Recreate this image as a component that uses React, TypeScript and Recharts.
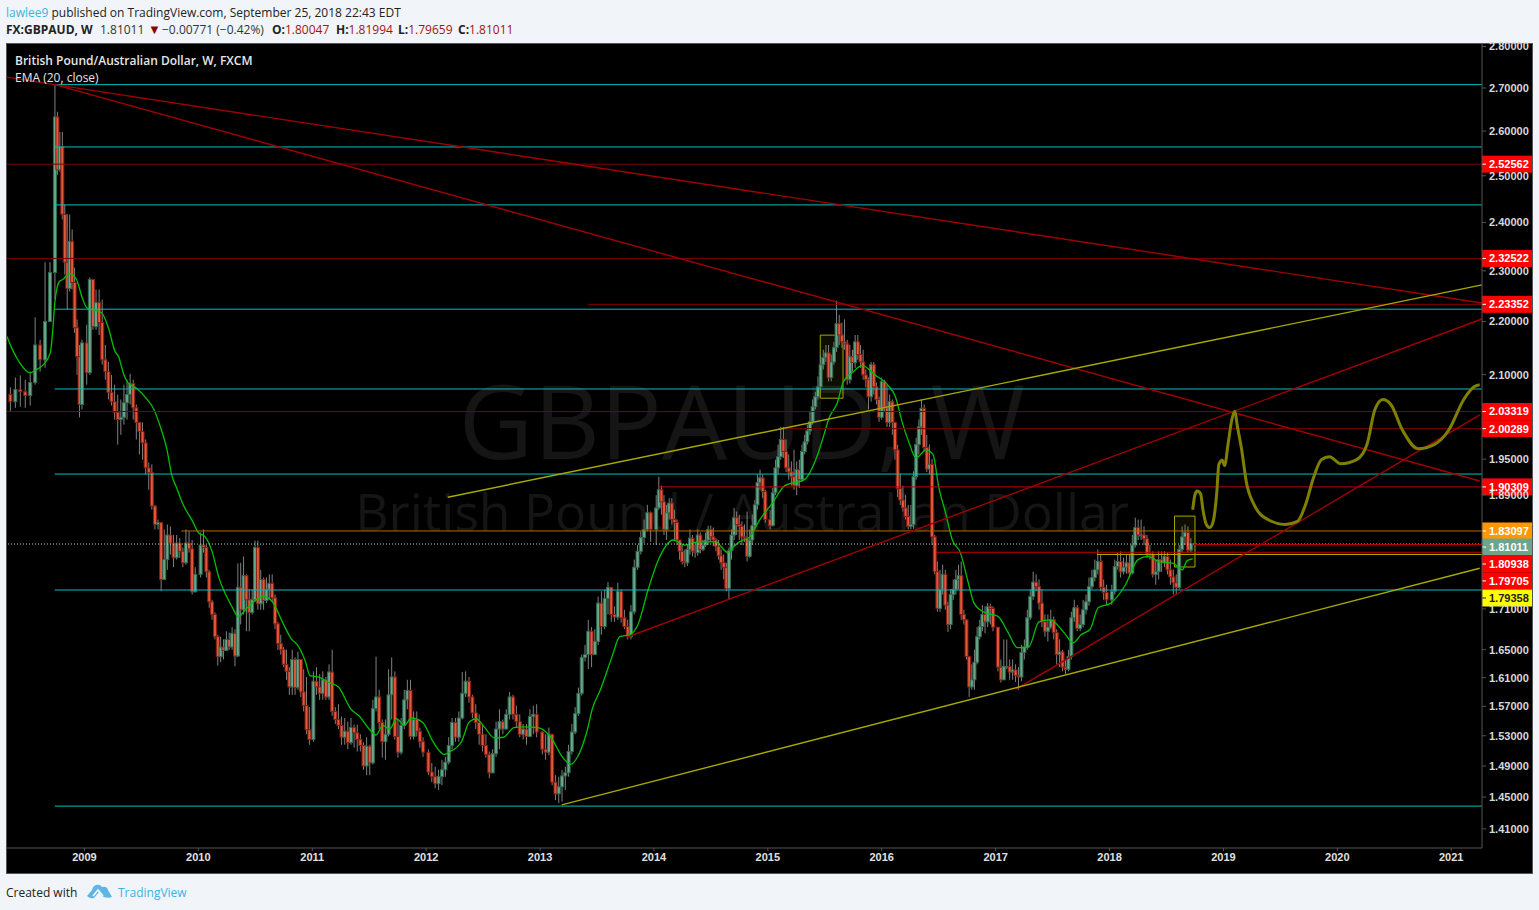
import React from 'react';
import { ComposedChart, Bar, Line, XAxis, YAxis, ReferenceLine, ReferenceArea } from 'recharts';

type Row = number[]; // close, high, low

const bars2008a: Row[] = [
  [2.047,2.073,2.029],[2.069,2.091,2.036],[2.065,2.095,2.038],[2.058,2.087,2.036],[2.082,2.102,2.040],
  [2.152,2.205,2.078],[2.124,2.162,2.102],[2.197,2.315,2.109],[2.294,2.315,2.201],
];
const bars2008b: Row[] = [
  [2.632,2.707,2.240],[2.512,2.644,2.501],[2.564,2.597,2.508],[2.415,2.597,2.404],[2.315,2.436,2.290],[2.262,2.415,2.220],
  [2.358,2.415,2.256],[2.274,2.383,2.260],[2.185,2.304,2.175],[2.130,2.201,2.096],[2.042,2.152,2.019],[2.156,2.162,2.033],
];
const bars2009: Row[] = [
  [2.100,2.191,2.078],[2.280,2.284,2.096],[2.187,2.280,2.181],[2.234,2.260,2.181],[2.195,2.260,2.171],[2.124,2.240,2.115],
  [2.102,2.152,2.087],[2.064,2.120,2.051],[2.047,2.096,2.040],[2.028,2.078,2.015],[2.015,2.060,1.971],[2.019,2.051,1.988],
  [2.045,2.078,2.006],[2.060,2.087,2.015],[2.080,2.098,2.042],[2.036,2.087,2.015],[2.010,2.042,1.980],[1.994,2.006,1.954],
  [1.974,2.010,1.945],[1.931,1.980,1.920],[1.923,1.940,1.894],[1.867,1.937,1.861],[1.837,1.869,1.829],[1.840,1.845,1.829],
  [1.750,1.840,1.732],[1.781,1.829,1.762],[1.820,1.837,1.765],[1.807,1.834,1.789],[1.784,1.820,1.769],[1.807,1.820,1.781],
  [1.794,1.815,1.784],[1.776,1.800,1.769],[1.807,1.829,1.773],[1.798,1.826,1.792],[1.731,1.812,1.727],[1.758,1.769,1.735],
];
const bars2010: Row[] = [
  [1.804,1.824,1.753],[1.800,1.829,1.792],[1.762,1.804,1.753],[1.716,1.765,1.707],[1.697,1.719,1.689],[1.664,1.700,1.660],
  [1.635,1.667,1.622],[1.649,1.664,1.627],[1.644,1.660,1.631],[1.660,1.672,1.645],[1.649,1.670,1.645],[1.669,1.678,1.645],
  [1.636,1.675,1.621],[1.738,1.775,1.634],[1.704,1.776,1.682],[1.756,1.786,1.697],[1.719,1.758,1.672],[1.700,1.735,1.672],
  [1.719,1.735,1.697],[1.800,1.811,1.716],[1.713,1.811,1.704],[1.750,1.765,1.704],[1.718,1.753,1.704],[1.735,1.753,1.714],
  [1.744,1.758,1.719],[1.722,1.758,1.716],[1.683,1.727,1.675],[1.654,1.686,1.645],[1.645,1.667,1.638],[1.624,1.649,1.620],
  [1.614,1.645,1.602],[1.592,1.620,1.581],[1.631,1.645,1.581],[1.591,1.634,1.581],[1.631,1.642,1.588],[1.585,1.620,1.578],
  [1.566,1.617,1.558],[1.533,1.606,1.527],[1.520,1.564,1.513],
];
const bars2011: Row[] = [
  [1.600,1.614,1.517],[1.592,1.620,1.581],[1.583,1.610,1.574],[1.602,1.614,1.574],[1.578,1.606,1.574],[1.613,1.624,1.574],
  [1.558,1.645,1.552],[1.547,1.564,1.541],[1.539,1.568,1.534],[1.523,1.551,1.513],[1.531,1.549,1.513],[1.516,1.544,1.507],
  [1.536,1.549,1.513],[1.529,1.540,1.509],[1.520,1.540,1.504],[1.512,1.527,1.504],[1.485,1.516,1.480],[1.511,1.523,1.473],
  [1.489,1.513,1.473],[1.562,1.574,1.487],[1.578,1.635,1.558],[1.543,1.588,1.534],[1.517,1.547,1.496],[1.527,1.547,1.493],
  [1.581,1.617,1.524],[1.606,1.634,1.547],[1.524,1.614,1.520],[1.503,1.547,1.496],[1.539,1.549,1.500],[1.574,1.588,1.534],
  [1.587,1.602,1.561],[1.524,1.602,1.520],[1.547,1.558,1.520],[1.531,1.558,1.524],[1.517,1.536,1.509],[1.503,1.523,1.497],
];
const bars2012: Row[] = [
  [1.477,1.507,1.473],[1.471,1.489,1.464],[1.462,1.484,1.456],[1.471,1.480,1.454],[1.480,1.493,1.460],[1.490,1.497,1.471],
  [1.512,1.523,1.487],[1.543,1.549,1.507],[1.523,1.549,1.517],[1.549,1.558,1.517],[1.583,1.613,1.547],[1.600,1.614,1.578],
  [1.578,1.606,1.570],[1.556,1.581,1.549],[1.543,1.568,1.534],[1.527,1.554,1.513],[1.512,1.540,1.504],[1.500,1.527,1.496],
  [1.476,1.504,1.469],[1.501,1.507,1.476],[1.534,1.544,1.497],[1.544,1.561,1.507],[1.534,1.547,1.527],[1.554,1.561,1.536],
  [1.578,1.585,1.547],[1.554,1.581,1.547],[1.544,1.566,1.536],[1.527,1.554,1.523],[1.534,1.541,1.520],[1.524,1.541,1.513],
  [1.551,1.561,1.523],[1.554,1.566,1.527],[1.530,1.568,1.523],
];
const bars2013: Row[] = [
  [1.507,1.531,1.500],[1.503,1.527,1.493],[1.527,1.536,1.499],[1.464,1.507,1.460],[1.449,1.473,1.441],[1.458,1.471,1.437],
  [1.472,1.480,1.439],[1.476,1.484,1.454],[1.504,1.513,1.471],[1.530,1.541,1.500],[1.555,1.564,1.527],[1.583,1.591,1.552],
  [1.634,1.638,1.580],[1.638,1.652,1.628],[1.672,1.689,1.617],[1.638,1.678,1.620],[1.657,1.675,1.645],[1.714,1.724,1.652],
  [1.679,1.732,1.667],[1.721,1.735,1.675],[1.738,1.746,1.697],[1.697,1.735,1.686],[1.693,1.709,1.686],[1.732,1.745,1.689],
  [1.692,1.735,1.685],[1.679,1.704,1.675],[1.664,1.689,1.660],[1.701,1.711,1.660],[1.769,1.781,1.697],[1.794,1.804,1.765],
  [1.816,1.826,1.789],[1.829,1.845,1.807],[1.856,1.869,1.826],[1.829,1.858,1.809],
];
const bars2014: Row[] = [
  [1.864,1.885,1.804],[1.894,1.916,1.861],[1.874,1.901,1.853],[1.829,1.885,1.820],[1.856,1.869,1.812],[1.872,1.880,1.845],
  [1.845,1.880,1.837],[1.840,1.861,1.812],[1.812,1.845,1.804],[1.794,1.812,1.781],[1.778,1.804,1.773],[1.776,1.797,1.769],
  [1.797,1.804,1.771],[1.815,1.829,1.789],[1.794,1.820,1.786],[1.792,1.804,1.784],[1.820,1.829,1.787],[1.797,1.824,1.791],
  [1.804,1.812,1.794],[1.812,1.824,1.801],[1.829,1.835,1.804],[1.817,1.835,1.809],[1.812,1.832,1.802],[1.802,1.815,1.794],
  [1.787,1.812,1.781],[1.776,1.797,1.765],[1.769,1.789,1.750],[1.736,1.776,1.732],[1.795,1.800,1.719],[1.820,1.829,1.781],
  [1.848,1.864,1.812],[1.837,1.858,1.820],[1.834,1.853,1.812],[1.817,1.842,1.804],[1.815,1.837,1.809],[1.786,1.858,1.778],
  [1.812,1.829,1.784],[1.835,1.853,1.804],[1.869,1.877,1.829],[1.906,1.920,1.861],[1.914,1.928,1.894],[1.891,1.920,1.880],
  [1.845,1.894,1.840],
];
const bars2015: Row[] = [
  [1.835,1.861,1.829],[1.889,1.897,1.834],[1.931,1.945,1.885],[1.950,1.971,1.920],[1.980,2.002,1.945],[1.959,2.002,1.948],
  [1.931,1.980,1.924],[1.924,1.954,1.911],[1.916,1.942,1.901],[1.901,1.962,1.894],[1.928,1.942,1.885],[1.911,1.945,1.897],
  [1.959,1.971,1.907],[1.976,1.988,1.954],[1.995,2.006,1.971],[2.011,2.029,1.988],[2.038,2.051,2.006],[2.056,2.065,2.033],
  [2.074,2.093,2.051],[2.115,2.134,2.078],[2.128,2.143,2.106],[2.137,2.152,2.120],[2.091,2.152,2.084],[2.120,2.134,2.084],
  [2.147,2.158,2.115],[2.193,2.238,2.139],[2.171,2.210,2.152],[2.158,2.195,2.147],[2.154,2.201,2.143],[2.087,2.162,2.078],
  [2.130,2.152,2.080],[2.119,2.143,2.102],[2.158,2.171,2.109],[2.134,2.171,2.124],[2.120,2.152,2.109],[2.096,2.143,2.087],
  [2.087,2.106,2.073],[2.056,2.091,2.033],[2.115,2.120,2.047],[2.074,2.120,2.060],[2.051,2.082,2.042],[2.019,2.056,2.011],
];
const bars2016: Row[] = [
  [2.084,2.091,2.015],[2.036,2.087,2.029],[2.010,2.078,2.002],[2.047,2.060,2.002],[2.010,2.051,1.988],[1.962,2.006,1.945],
  [1.896,1.971,1.882],[1.877,1.920,1.869],[1.864,1.901,1.858],[1.850,1.885,1.845],[1.834,1.869,1.829],[1.837,1.869,1.829],
  [1.916,1.925,1.830],[1.971,1.983,1.911],[2.002,2.015,1.954],[2.035,2.051,1.988],[1.966,2.042,1.959],[1.929,1.988,1.924],
  [1.937,1.971,1.920],[1.817,1.946,1.804],[1.762,1.820,1.758],[1.706,1.778,1.701],[1.735,1.765,1.701],[1.758,1.773,1.727],
  [1.711,1.765,1.704],[1.682,1.716,1.671],[1.727,1.735,1.675],[1.735,1.750,1.719],[1.750,1.765,1.727],[1.756,1.773,1.735],
  [1.697,1.778,1.689],[1.689,1.704,1.682],[1.635,1.686,1.631],[1.592,1.631,1.578],[1.602,1.624,1.588],[1.627,1.645,1.588],
  [1.664,1.678,1.624],[1.679,1.689,1.660],[1.697,1.711,1.672],[1.686,1.709,1.669],[1.709,1.714,1.678],[1.706,1.713,1.682],
  [1.678,1.709,1.672],
];
const bars2017: Row[] = [
  [1.620,1.678,1.614],[1.602,1.631,1.598],[1.621,1.660,1.614],[1.621,1.660,1.617],[1.613,1.631,1.602],[1.616,1.631,1.602],
  [1.608,1.624,1.599],[1.606,1.620,1.588],[1.641,1.652,1.600],[1.649,1.660,1.631],[1.692,1.704,1.645],[1.724,1.735,1.689],
  [1.746,1.762,1.719],[1.739,1.758,1.732],[1.714,1.750,1.704],[1.686,1.735,1.678],[1.672,1.697,1.664],[1.678,1.697,1.657],
  [1.689,1.704,1.675],[1.670,1.694,1.660],[1.638,1.675,1.624],[1.642,1.660,1.620],[1.620,1.645,1.614],[1.617,1.631,1.610],
  [1.635,1.645,1.614],[1.692,1.701,1.631],[1.707,1.719,1.686],[1.676,1.711,1.672],[1.682,1.697,1.672],[1.704,1.719,1.678],
  [1.716,1.727,1.697],[1.739,1.753,1.710],[1.753,1.765,1.735],[1.765,1.781,1.747],[1.778,1.797,1.758],[1.738,1.789,1.732],
  [1.730,1.750,1.719],[1.719,1.742,1.711],
];
const bars2018: Row[] = [
  [1.732,1.742,1.711],[1.770,1.781,1.727],[1.778,1.792,1.765],[1.762,1.794,1.753],[1.769,1.784,1.758],[1.776,1.789,1.759],
  [1.760,1.789,1.753],[1.804,1.820,1.758],[1.832,1.848,1.800],[1.820,1.845,1.812],[1.820,1.845,1.812],[1.814,1.834,1.804],
  [1.790,1.820,1.784],[1.789,1.804,1.781],[1.758,1.794,1.753],[1.762,1.781,1.742],[1.781,1.794,1.750],[1.776,1.794,1.762],
  [1.786,1.794,1.769],[1.765,1.792,1.758],[1.754,1.781,1.742],[1.745,1.765,1.727],[1.738,1.758,1.727],[1.797,1.804,1.735],
  [1.817,1.834,1.792],[1.824,1.837,1.804],[1.796,1.834,1.792],[1.806,1.815,1.792],
];

const barBlocks: { from: number; to: number; rows: Row[] }[] = [
  { from: 2008.35, to: 2008.741, rows: bars2008a },
  { from: 2008.741, to: 2009.0, rows: bars2008b },
  { from: 2009.02, to: 2010.0, rows: bars2009 },
  { from: 2010.02, to: 2011.0, rows: bars2010 },
  { from: 2011.01, to: 2012.0, rows: bars2011 },
  { from: 2012.02, to: 2013.0, rows: bars2012 },
  { from: 2013.02, to: 2014.0, rows: bars2013 },
  { from: 2014.02, to: 2015.0, rows: bars2014 },
  { from: 2015.02, to: 2016.0, rows: bars2015 },
  { from: 2016.0, to: 2017.0, rows: bars2016 },
  { from: 2017.02, to: 2018.0, rows: bars2017 },
  { from: 2018.02, to: 2018.74, rows: bars2018 },
];

const emaTimes = [
  2008.32,2008.36,2008.43,2008.52,2008.58,2008.64,2008.70,2008.72,2008.74,2008.78,2008.81,2008.87,2008.93,2008.98,
  2009.02,2009.15,2009.21,2009.27,2009.30,2009.34,2009.38,2009.46,2009.55,2009.61,2009.66,2009.72,2009.77,2009.81,2009.86,2009.95,
  2010.00,2010.06,2010.12,2010.18,2010.24,2010.30,2010.35,2010.43,2010.57,2010.65,2010.74,2010.82,2010.87,2010.94,2010.98,
  2011.05,2011.15,2011.23,2011.34,2011.41,2011.50,2011.56,2011.62,2011.68,2011.74,2011.81,2011.87,2011.97,
  2012.06,2012.16,2012.20,2012.31,2012.38,2012.44,2012.51,2012.60,2012.68,2012.77,2012.85,2012.98,
  2013.09,2013.20,2013.27,2013.33,2013.41,2013.46,2013.53,2013.63,2013.70,2013.79,2013.86,2013.95,
  2014.04,2014.17,2014.27,2014.39,2014.54,2014.65,2014.69,2014.75,2014.84,2014.93,
  2015.04,2015.15,2015.32,2015.43,2015.48,2015.54,2015.61,2015.66,2015.74,2015.83,2015.94,
  2016.05,2016.12,2016.18,2016.24,2016.30,2016.39,2016.45,2016.50,2016.56,2016.62,2016.69,2016.76,2016.81,2016.90,
  2017.02,2017.11,2017.19,2017.29,2017.38,2017.48,2017.60,2017.68,2017.75,2017.83,2017.90,
  2018.01,2018.14,2018.25,2018.34,2018.43,2018.56,2018.64,2018.68,2018.73,
];
const emaValues = [
  2.168,2.147,2.119,2.100,2.106,2.115,2.137,2.175,2.234,2.276,2.280,2.292,2.280,2.244,
  2.224,2.214,2.185,2.139,2.130,2.100,2.082,2.071,2.051,2.033,2.006,1.966,1.916,1.897,1.872,1.842,
  1.824,1.817,1.794,1.753,1.727,1.707,1.694,1.707,1.724,1.716,1.685,1.660,1.652,1.628,1.608,
  1.606,1.598,1.592,1.561,1.552,1.534,1.526,1.539,1.534,1.548,1.539,1.549,1.543,
  1.517,1.500,1.503,1.517,1.544,1.548,1.537,1.522,1.523,1.536,1.537,1.536,
  1.524,1.496,1.487,1.497,1.530,1.562,1.588,1.634,1.664,1.667,1.682,1.735,
  1.781,1.812,1.804,1.809,1.809,1.792,1.800,1.809,1.817,1.845,
  1.872,1.901,1.911,1.950,1.980,2.019,2.045,2.082,2.100,2.113,2.096,
  2.078,2.056,2.010,1.974,1.948,1.962,1.954,1.899,1.856,1.812,1.792,1.745,1.714,1.700,
  1.694,1.670,1.648,1.649,1.686,1.689,1.670,1.655,1.667,1.675,1.707,
  1.714,1.742,1.781,1.786,1.778,1.775,1.765,1.779,1.782,
];

const sketchTimes = [
  2018.73,2018.75,2018.77,2018.80,2018.82,2018.85,2018.88,2018.91,2018.94,2018.96,2018.99,2019.01,2019.04,2019.07,2019.10,2019.12,
  2019.16,2019.20,2019.27,2019.39,2019.54,2019.65,2019.72,2019.79,2019.86,2019.93,2020.03,2020.17,2020.26,2020.33,2020.40,2020.47,
  2020.57,2020.71,2020.85,2020.98,2021.11,2021.20,2021.25,
];
const sketchValues = [
  1.861,1.886,1.892,1.887,1.861,1.837,1.832,1.842,1.886,1.937,1.944,1.935,1.971,2.011,2.030,2.006,
  1.962,1.908,1.869,1.845,1.837,1.842,1.869,1.914,1.945,1.950,1.938,1.945,1.971,2.033,2.051,2.042,
  1.997,1.964,1.971,1.997,2.051,2.074,2.078,
];

const priceTicks = [2.8,2.7,2.6,2.5,2.4,2.3,2.2,2.1,1.95,1.89,1.71,1.65,1.61,1.57,1.53,1.49,1.45,1.41];
const yearTicks = [2009,2010,2011,2012,2013,2014,2015,2016,2017,2018,2019,2020,2021];

const tAxisMin = 2008.32;
const tAxisMax = 2021.27;
const pAxisMin = 1.3866;
const pAxisMax = 2.8087;

const cyanLevels = [2.708,2.564,2.437,2.224,2.0737,1.9247,1.7386,1.4385];
const levelStart = 2008.74;

const dimRedLevels: [number, number][] = [
  [tAxisMin,2.52562],[tAxisMin,2.32522],[2013.42,2.23352],[tAxisMin,2.03319],[2015.09,2.00289],
];
const brightRedLevels: [number, number][] = [
  [2014.04,1.90309],[2018.74,1.80938],[2016.48,1.79705],
];
const orangeLevel: [number, number] = [2009.85,1.83097];
const yellowLevel: [number, number] = [2017.89,1.79358];
const lastPrice = 1.81011;

const redTrends: number[][] = [
  [2008.32,2.726,2008.74,2.708],
  [2008.74,2.708,2021.27,2.236],
  [2008.74,2.708,2021.25,1.913],
  [2013.76,1.668,2021.27,2.205],
  [2017.18,1.594,2021.25,2.027],
];
const yellowTrends: number[][] = [
  [2012.19,1.886,2021.27,2.272],
  [2013.19,1.440,2021.25,1.772],
];
const boxes: number[][] = [
  [2015.46,2015.66,2.174,2.057],
  [2018.57,2018.75,1.855,1.774],
];

const tags = [
  { price: 2.52562, bg: '#ff0000', fg: '#ffffff', shift: 0 },
  { price: 2.32522, bg: '#ff0000', fg: '#ffffff', shift: 0 },
  { price: 2.23352, bg: '#ff0000', fg: '#ffffff', shift: 0 },
  { price: 2.03319, bg: '#ff0000', fg: '#ffffff', shift: 0 },
  { price: 2.00289, bg: '#ff0000', fg: '#ffffff', shift: 0 },
  { price: 1.90309, bg: '#ff0000', fg: '#ffffff', shift: 0 },
  { price: 1.83097, bg: '#ff9800', fg: '#ffffff', shift: 0 },
  { price: 1.81011, bg: '#6ba58b', fg: '#ffffff', shift: 3 },
  { price: 1.80938, bg: '#ff0000', fg: '#ffffff', shift: 19.5 },
  { price: 1.79705, bg: '#ff0000', fg: '#ffffff', shift: 28.6 },
  { price: 1.79358, bg: '#ffff00', fg: '#222222', shift: 43.5 },
];

// My reading table of the log axis ran slightly low towards the bottom of the scale.
const readingFix = (p: number) => p * (1 + 0.0028 * (2.7 - p));

const candleData: any[] = [];
let prevClose = readingFix(2.06);
barBlocks.forEach((b) => {
  b.rows.forEach((r, i) => {
    const t = b.from + (i * (b.to - b.from)) / b.rows.length;
    const close = readingFix(r[0]);
    const high = readingFix(r[1]);
    const low = readingFix(r[2]);
    const open = prevClose;
    const hi = Math.max(high, open, close);
    const lo = Math.min(low, open, close);
    candleData.push({ t, open, close, high: hi, low: lo, range: [lo, hi] });
    prevClose = close;
  });
});
const emaData = emaTimes.map((t, i) => ({ t, ema: readingFix(emaValues[i]) }));
const sketchData = sketchTimes.map((t, i) => ({ t, sketch: readingFix(sketchValues[i]) }));

const UI = '"Open Sans", sans-serif';
const AX = '"Liberation Sans", Arial, sans-serif';

function Candle(props: any) {
  const { x, y, width, height, payload } = props;
  if (!payload || !isFinite(y) || !isFinite(height)) return null;
  const lh = Math.log(payload.high);
  const ll = Math.log(payload.low);
  const py = (p: number) => y + (height * (lh - Math.log(p))) / (lh - ll);
  const up = payload.close >= payload.open;
  const top = py(Math.max(payload.open, payload.close));
  const bot = py(Math.min(payload.open, payload.close));
  const cx = x + width / 2;
  return (
    <g>
      <line x1={cx} x2={cx} y1={y} y2={y + height} stroke="#808080" strokeWidth={1} />
      <rect
        x={cx - 1.5}
        y={top}
        width={3}
        height={Math.max(bot - top, 1)}
        fill={up ? '#6ba58b' : '#e0593c'}
        stroke={up ? '#2f6b50' : '#8a1c10'}
        strokeWidth={1}
      />
    </g>
  );
}

function Tag(props: any) {
  const { viewBox, bg, fg, shift, text } = props;
  const xr = viewBox.x + viewBox.width;
  const cy = viewBox.y + shift;
  return (
    <g>
      <rect x={xr} y={cy - 8.5} width={50} height={17} fill={bg} />
      <line x1={xr} x2={xr + 4} y1={cy} y2={cy} stroke={fg} />
      <text x={xr + 7} y={cy + 4} fill={fg} fontSize={11} fontWeight={700} fontFamily={AX}>{text}</text>
    </g>
  );
}

function Cloud() {
  return (
    <svg width="25" height="16" viewBox="0 0 25 16" style={{ position: 'absolute', left: 87, top: 884 }}>
      <path d="M0 12 L5 6 Q6 2 9 1 Q13 0 15 3 Q20 2 21 6 L25 13 Q19 15 15 12 L12 8 L7 14 Q3 15 0 12 Z" fill="#5fb6e5" />
      <path d="M6 12 L11 6 L16 12" fill="none" stroke="#ffffff" strokeWidth="1.5" />
    </svg>
  );
}

const abs = (left: number, top: number, extra: any = {}): any => ({
  position: 'absolute', left, top, whiteSpace: 'nowrap', ...extra,
});
const head = { fontSize: 12, lineHeight: '17px' };

export default function App() {
  return (
    <div style={{ position: 'absolute', left: 0, top: 0, width: 1539, height: 910, background: '#f1f5f9', overflow: 'hidden', fontFamily: UI }}>
      <div style={abs(6, 4, { ...head, color: '#222' })}>
        <span style={{ color: '#3bb3e4' }}>lawlee9</span> published on TradingView.com, September 25, 2018 22:43 EDT
      </div>
      <b style={abs(6, 21, { ...head, color: '#222' })}>FX:GBPAUD, W</b>
      <span style={abs(100, 21, { ...head, color: '#333' })}>1.81011</span>
      <span style={abs(148, 21, { ...head, fontSize: 13, color: '#8b0000' })}>▼</span>
      <span style={abs(162, 21, { ...head, color: '#333' })}>−0.00771 (−0.42%)</span>
      <span style={abs(272, 21, head)}><b style={{ color: '#222' }}>O:</b><span style={{ color: '#a31212' }}>1.80047</span></span>
      <span style={abs(336, 21, head)}><b style={{ color: '#222' }}>H:</b><span style={{ color: '#a31212' }}>1.81994</span></span>
      <span style={abs(398, 21, head)}><b style={{ color: '#222' }}>L:</b><span style={{ color: '#a31212' }}>1.79659</span></span>
      <span style={abs(458, 21, head)}><b style={{ color: '#222' }}>C:</b><span style={{ color: '#a31212' }}>1.81011</span></span>

      <div style={{ position: 'absolute', left: 6, top: 43, width: 1527, height: 831, background: '#000', border: '1px solid #555', boxSizing: 'border-box' }} />
      <div style={abs(342, 364, { width: 800, textAlign: 'center', fontSize: 103, lineHeight: '110px', color: '#151515' })}>GBPAUD, W</div>
      <div style={abs(342, 481, { width: 800, textAlign: 'center', fontSize: 51.7, lineHeight: '60px', color: '#151515' })}>British Pound / Australian Dollar</div>

      <div style={{ position: 'absolute', left: 0, top: 0 }}>
        <ComposedChart
          width={1539}
          height={910}
          data={candleData}
          margin={{ top: 43, right: 7, bottom: 37, left: 7 }}
        >
          <XAxis
            dataKey="t"
            type="number"
            domain={[tAxisMin, tAxisMax]}
            allowDataOverflow
            ticks={yearTicks}
            interval={0}
            height={25}
            tickFormatter={(v: number) => String(v)}
            stroke="#555"
            tickSize={3}
            tick={{ fill: '#e0e0e0', fontSize: 11, fontWeight: 700, fontFamily: AX }}
          />
          <YAxis
            orientation="right"
            scale="log"
            type="number"
            domain={[pAxisMin, pAxisMax]}
            allowDataOverflow
            ticks={priceTicks}
            interval={0}
            width={50}
            tickFormatter={(v: number) => v.toFixed(5)}
            stroke="#555"
            tickSize={4}
            tickMargin={3}
            tick={{ fill: '#d8d8d8', fontSize: 11, fontWeight: 700, fontFamily: AX }}
          />

          {boxes.map((b, i) => (
            <ReferenceArea key={'box' + i} x1={b[0]} x2={b[1]} y1={b[2]} y2={b[3]} stroke="#a8a800" strokeWidth={1} fill="#808000" fillOpacity={0.1} ifOverflow="visible" />
          ))}

          <Line data={emaData} dataKey="ema" type="monotone" stroke="#00c000" strokeWidth={1.3} dot={false} isAnimationActive={false} />
          <Bar dataKey="range" barSize={3} shape={<Candle />} isAnimationActive={false} />

          <ReferenceLine y={lastPrice} stroke="#b9d6c6" strokeDasharray="1 2" strokeWidth={1} ifOverflow="visible" />
          {cyanLevels.map((p, i) => (
            <ReferenceLine key={'c' + i} segment={[{ x: levelStart, y: p }, { x: tAxisMax, y: p }]} stroke="#00bfbf" strokeWidth={1} ifOverflow="visible" />
          ))}
          {dimRedLevels.map(([t0, p], i) => (
            <ReferenceLine key={'r' + i} segment={[{ x: t0, y: p }, { x: tAxisMax, y: p }]} stroke="#7d0000" strokeWidth={1} ifOverflow="visible" />
          ))}
          {brightRedLevels.map(([t0, p], i) => (
            <ReferenceLine key={'b' + i} segment={[{ x: t0, y: p }, { x: tAxisMax, y: p }]} stroke="#c00000" strokeWidth={1} ifOverflow="visible" />
          ))}
          <ReferenceLine segment={[{ x: orangeLevel[0], y: orangeLevel[1] }, { x: tAxisMax, y: orangeLevel[1] }]} stroke="#b36b00" strokeWidth={1} ifOverflow="visible" />
          <ReferenceLine segment={[{ x: yellowLevel[0], y: yellowLevel[1] }, { x: tAxisMax, y: yellowLevel[1] }]} stroke="#a8a800" strokeWidth={1} ifOverflow="visible" />

          {redTrends.map((s, i) => (
            <ReferenceLine key={'rt' + i} segment={[{ x: s[0], y: s[1] }, { x: s[2], y: s[3] }]} stroke="#a00000" strokeWidth={1.4} ifOverflow="visible" />
          ))}
          {yellowTrends.map((s, i) => (
            <ReferenceLine key={'yt' + i} segment={[{ x: s[0], y: s[1] }, { x: s[2], y: s[3] }]} stroke="#a8a800" strokeWidth={1.4} ifOverflow="visible" />
          ))}

          <Line data={sketchData} dataKey="sketch" type="monotone" stroke="#808000" strokeWidth={3} dot={false} isAnimationActive={false} />

          {tags.map((g) => (
            <ReferenceLine
              key={'tag' + g.price}
              y={g.price}
              stroke="none"
              ifOverflow="visible"
              label={<Tag bg={g.bg} fg={g.fg} shift={g.shift} text={g.price.toFixed(5)} />}
            />
          ))}
        </ComposedChart>
      </div>

      <div style={abs(15, 52, { ...head, color: '#e6e6e6', fontWeight: 600 })}>British Pound/Australian Dollar, W, FXCM</div>
      <div style={abs(15, 69, { ...head, color: '#e6e6e6' })}>EMA (20, close)</div>

      <div style={abs(6, 884, { ...head, color: '#222' })}>Created with</div>
      <Cloud />
      <div style={abs(118, 884, { ...head, color: '#3bb3e4' })}>TradingView</div>
    </div>
  );
}
